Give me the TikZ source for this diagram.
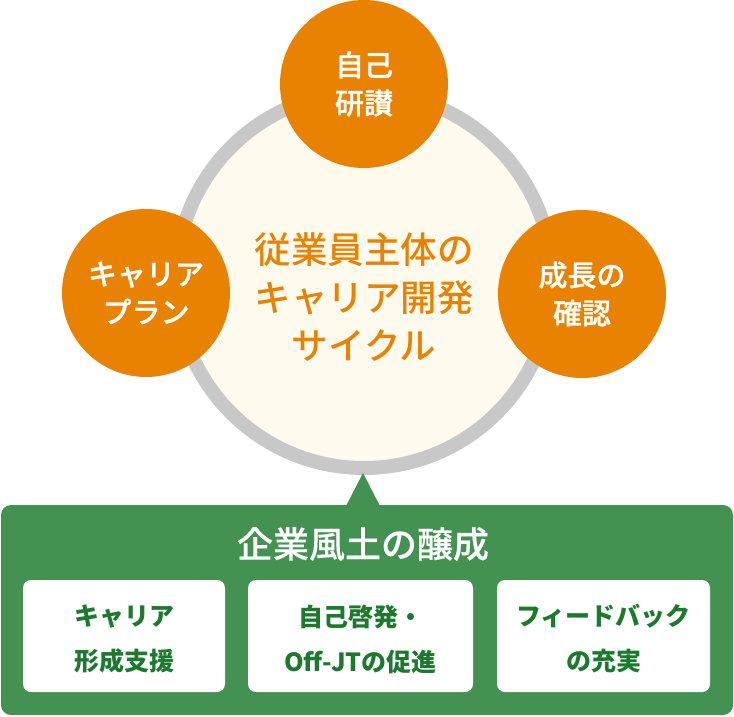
\documentclass[tikz,border=0pt]{standalone}
\usepackage{fontspec}
\setmainfont{Noto Sans CJK JP}
\newfontfamily\jpm{Noto Sans CJK JP Medium}
\newfontfamily\jpmb[FakeBold=1]{Noto Sans CJK JP Medium}
\newfontfamily\jpmt[FakeBold=0.3]{Noto Sans CJK JP Medium}
\definecolor{orng}{RGB}{233,130,0}
\definecolor{ringgray}{RGB}{200,200,200}
\definecolor{cream}{RGB}{254,250,238}
\definecolor{grn}{RGB}{67,146,82}
\definecolor{dgrn}{RGB}{27,122,45}
\tikzset{
  stagecircle/.style={circle, fill=orng, minimum size=168pt, inner sep=0pt, text=white, font=\fontsize{29}{38}\jpmb, align=center},
  itembox/.style={rounded corners=8pt, fill=white, inner sep=0pt, text=dgrn, font=\fontsize{25}{45}\selectfont\bfseries, align=center},
}
\begin{document}
\begin{tikzpicture}[x=1pt,y=-1pt]
\useasboundingbox (0,0) rectangle (734,716);
% central cycle
\node[circle, draw=ringgray, line width=14pt, fill=cream, minimum size=376pt, inner sep=0pt] (cycle) at (364,280) {};
\node[text=orng, font=\fontsize{36.5}{48}\jpm, align=center] (cycletext) at (364,297) {従業員主体の\\キャリア開発\\サイクル};
% stages
\node[stagecircle] (self) at (364,84) {自己\\研讃};
\node[stagecircle] (plan) at (146,293) {キャリア\\プラン};
\node[stagecircle] (check) at (582,294) {成長の\\確認};
% green panel
\fill[grn, rounded corners=10pt] (1,505) rectangle (733,715);
\coordinate (apex) at (363,473);
\fill[grn] (apex) -- (380,506) -- (346,506) -- cycle;
\node[text=white, font=\fontsize{36}{40}\jpmt] (culture) at (363,544) {企業風土の醸成};
\node[itembox, minimum width=202pt, minimum height=112pt] (b1) at (124,636) {};
\node[itembox, minimum width=225pt, minimum height=112pt] (b2) at (360.5,636) {};
\node[itembox, minimum width=213pt, minimum height=112pt] (b3) at (603.5,636) {};
\node[itembox, fill=none] (t1) at (124,639) {キャリア\\形成支援};
\node[itembox, fill=none] (t2) at (360.5,639) {自己啓発・\\Off-JTの促進};
\node[itembox, fill=none] (t3) at (603.5,639) {フィードバック\\の充実};
\end{tikzpicture}
\end{document}
